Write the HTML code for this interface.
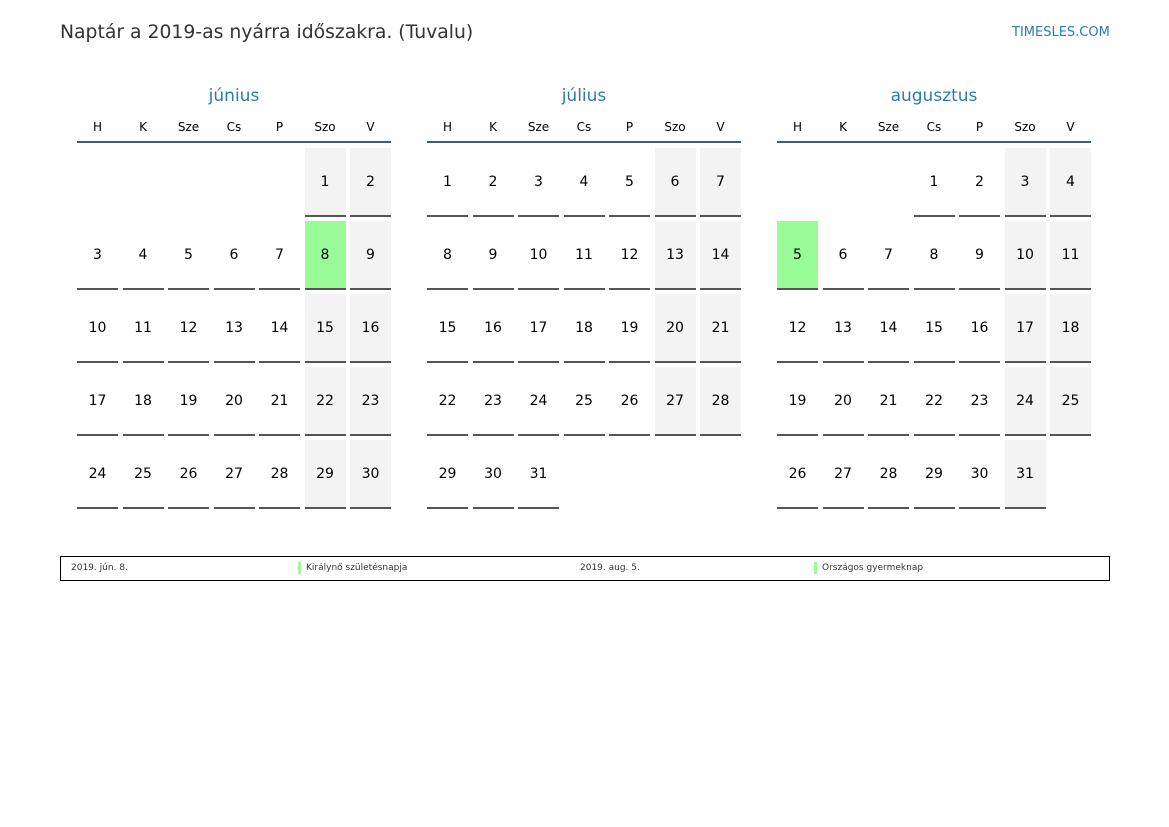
<!DOCTYPE html>
<html><head><meta charset="utf-8"><style>
body{margin:0;width:1169px;height:827px;background:#fff;font-family:"DejaVu Sans","Liberation Sans",sans-serif;position:relative;overflow:hidden}
div{position:absolute}
.t{left:60px;top:22px;font-size:18.8px;color:#333}
.site{left:1012px;top:25px;font-size:13px;color:#2a7ab8}
.m{font-size:17px;color:#2a7ab8;text-align:center;width:314px;top:86px}
.h{font-size:12px;color:#000;text-align:center;width:41px;top:120px}
.hl{height:2px;background:#3d5a80;width:314px;top:141px}
.c{width:41px;height:67px;text-align:center;line-height:68px;font-size:14px;color:#000}
.u{width:41px;height:1.5px;background:#555}
.lg{left:60px;top:556px;width:1048px;height:23px;border:1px solid #000}
.lt{font-size:9px;color:#333;top:563px}
.bar{width:3px;height:12px;background:#98fb98;top:562px}
</style></head><body>
<div class="t">Naptár a 2019-as nyárra időszakra. (Tuvalu)</div>
<div class="site">TIMESLES.COM</div>
<div class="lg"></div>
<div class="lt" style="left:71px">2019. jún. 8.</div>
<div class="bar" style="left:298px"></div>
<div class="lt" style="left:306px">Királynő születésnapja</div>
<div class="lt" style="left:580px">2019. aug. 5.</div>
<div class="bar" style="left:814px"></div>
<div class="lt" style="left:822px">Országos gyermeknap</div>
<script>
var months=[["június",77,5,30,[8]],["július",427,0,31,[]],["augusztus",777,3,31,[5]]];
var hd=["H","K","Sze","Cs","P","Szo","V"];var s="";
months.forEach(function(m){var x0=m[1];
s+='<div class="m" style="left:'+x0+'px">'+m[0]+'</div><div class="hl" style="left:'+x0+'px"></div>';
hd.forEach(function(h,i){s+='<div class="h" style="left:'+(x0+i*45.5)+'px">'+h+'</div>';});
for(var d=1;d<=m[3];d++){var p=m[2]+d-1,c=p%7,r=Math.floor(p/7);var x=x0+c*45.5,y=148+r*73;
var bg=m[4].indexOf(d)>=0?'#98fb98':(c>=5?'#f3f3f3':'transparent');
s+='<div class="c" style="left:'+x+'px;top:'+y+'px;background:'+bg+'">'+d+'</div><div class="u" style="left:'+x+'px;top:'+(y+67)+'px"></div>';}
});
document.body.insertAdjacentHTML('beforeend',s);
</script>
</body></html>
